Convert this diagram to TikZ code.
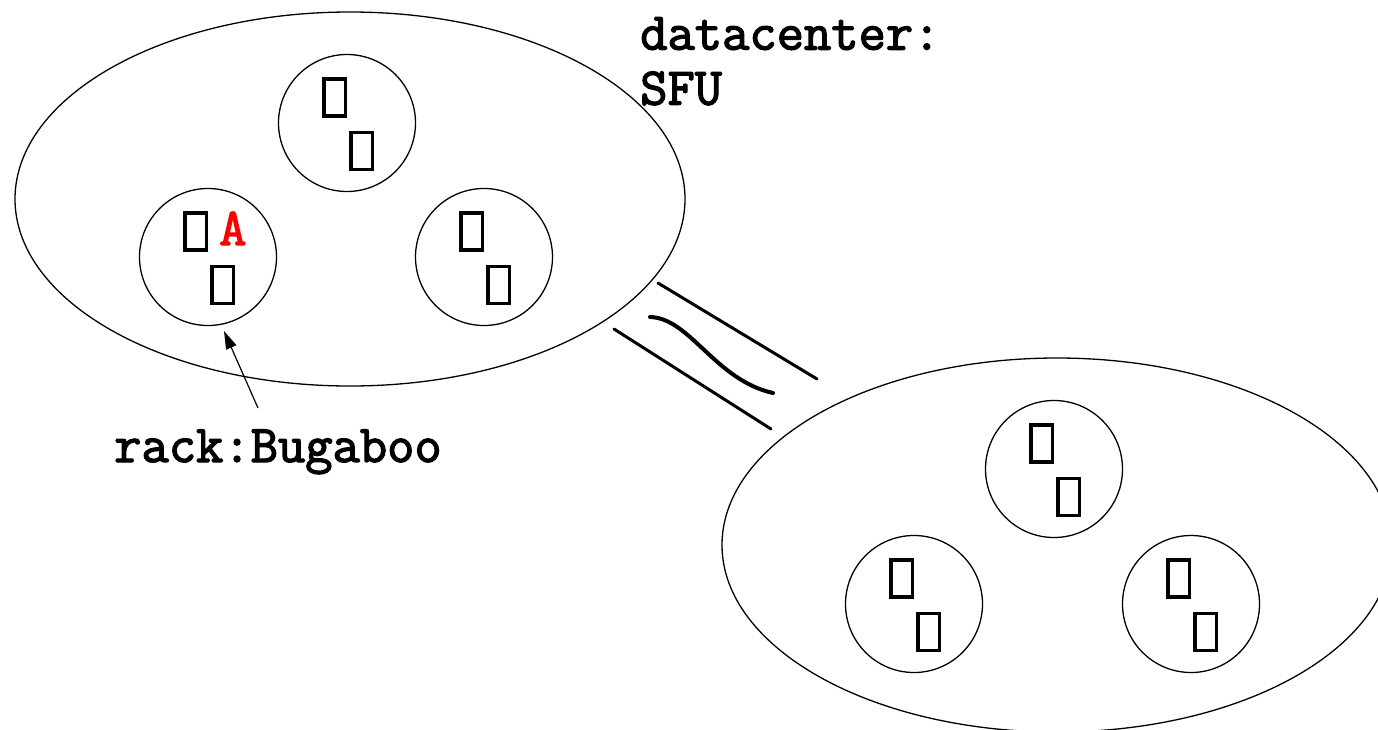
\documentclass[tikz,border=0pt]{standalone}
\usepackage{fontspec}
\newfontfamily\labelfont{Latin Modern Mono}[FakeBold=2.5]
\usetikzlibrary{shapes.geometric,arrows.meta}
% a rack: a circle holding two hosts, placed diagonally
\newcommand\rackat[3]{%
  \node[rack] (#1) at (#2,#3) {};
  \node[host] (#1-h1) at ([shift={(-12.5,-25.5)}]#1.center) {};
  \node[host] (#1-h2) at ([shift={(14.5,28)}]#1.center) {};
}
\begin{document}
\begin{tikzpicture}[x=1pt,y=-1pt,
  site/.style={draw,ellipse,line width=1.3pt,minimum width=670pt,minimum height=374pt,inner sep=0pt},
  rack/.style={draw,circle,line width=1.3pt,minimum size=137pt,inner sep=0pt},
  host/.style={draw,rectangle,line width=3.5pt,minimum width=21.5pt,minimum height=37pt,inner sep=0pt},
  tag/.style={font=\labelfont\fontsize{53}{55}\selectfont,inner sep=0pt},
  link/.style={line width=3pt,line cap=round},
]
\useasboundingbox (0,0) rectangle (1378,729);
\clip (0,0) rectangle (1378,729);

% two data centres
\node[site] (sfu) at (350,199) {};
\node[site] (dc2) at (1057,545) {};

% racks of the first data centre
\rackat{r1}{347}{123}
\rackat{r2}{208}{257}
\rackat{r3}{484}{257}

% racks of the second data centre
\rackat{r4}{1054}{469}
\rackat{r5}{914}{604}
\rackat{r6}{1191}{604}

% host A
\node[tag,text=red,anchor=base west] (hostA) at (219,245) {A};

% labels
\node[tag,align=left,anchor=north west] (dclabel) at (640,17) {datacenter:\\SFU};
\node[tag,anchor=base west] (racklabel) at (114,462) {rack:Bugaboo};

% pointer from the rack label to its rack
\coordinate (ptr) at (258,408);
\coordinate (ptrtip) at (224,331);
\draw[line width=1.2pt,-{Triangle[length=18pt,width=11pt]}] (ptr) -- (ptrtip);

% network link between the data centres
\coordinate (l1a) at (658,283);
\coordinate (l1b) at (817,379);
\coordinate (wa) at (650,317);
\coordinate (wb) at (773,393);
\coordinate (l3a) at (614,329);
\coordinate (l3b) at (771,429);
\draw[link] (l1a) -- (l1b);
\draw[link,line width=4pt] (wa) .. controls +(40,1) and +(-58,-13) .. (wb);
\draw[link] (l3a) -- (l3b);
\end{tikzpicture}
\end{document}
